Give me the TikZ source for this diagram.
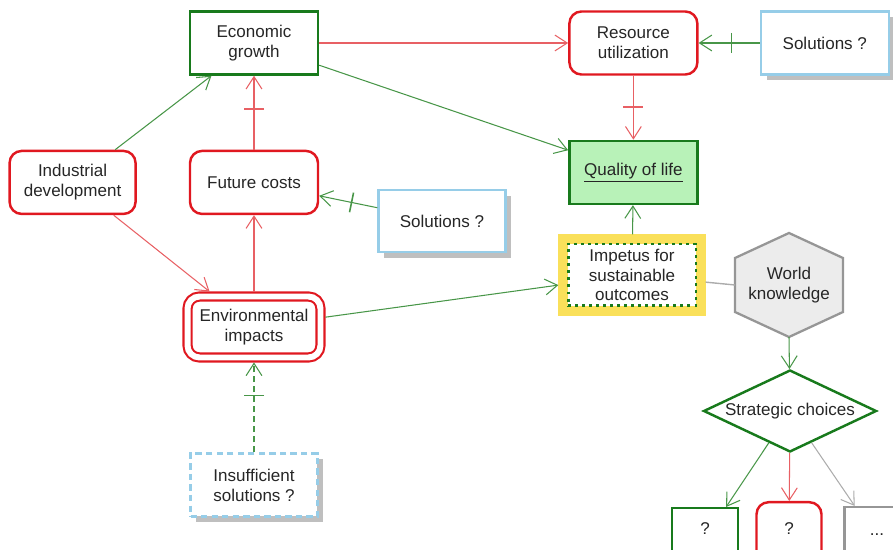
\documentclass[tikz,border=0pt]{standalone}
\usepackage{fontspec}
\setmainfont{Liberation Sans}
\usetikzlibrary{positioning, arrows.meta, shapes.geometric, shadows, calc, decorations.markings}
\definecolor{boxred}{RGB}{224,24,32}
\definecolor{linkred}{RGB}{232,96,100}
\definecolor{boxgreen}{RGB}{24,122,28}
\definecolor{linkgreen}{RGB}{72,150,72}
\definecolor{qolfill}{RGB}{184,242,184}
\definecolor{solblue}{RGB}{150,205,232}
\definecolor{hexgray}{RGB}{150,150,150}
\definecolor{hexfill}{RGB}{236,236,236}
\definecolor{impyellow}{RGB}{250,224,90}
\definecolor{linkgray}{RGB}{172,172,172}
\tikzset{
    box/.style={rectangle, minimum width=2.56cm, minimum height=1.26cm, inner sep=0pt, line width=1.4pt},
    greenbox/.style={box, draw=boxgreen},
    redbox/.style={box, draw=boxred, rounded corners=0.24cm},
    solbox/.style={box, draw=solblue, fill=white, drop shadow={shadow xshift=3.4pt, shadow yshift=-3.4pt, fill=black!25, opacity=1}},
    impetusbox/.style={box, draw=boxgreen, line width=1.7pt, dash pattern=on 1.7pt off 2.3pt, fill=white,
      preaction={draw=impyellow, solid, line width=11pt}, outer sep=5.5pt, minimum height=1.24cm},
    hexagon/.style={draw=hexgray, fill=hexfill, line width=1.3pt},
    link/.style={line width=0.6pt, -{Straight Barb[length=7pt,width=9pt]}},
    redlink/.style={link, color=linkred},
    greenlink/.style={link, color=linkgreen},
    blocked/.style={postaction={decorate, decoration={markings,
      mark=at position -0.66cm with {\draw[-, solid, line width=0.9pt, #1] (0,-0.2cm) -- (0,0.2cm);}}}},
}

\begin{document}
\begin{tikzpicture}[x=0.02cm, y=-0.02cm,
    every node/.append style={font=\fontsize{9.7}{11.3}\selectfont, align=center, text=black!85}]
    \useasboundingbox (0,0) rectangle (893,550);
    \clip (0,0) rectangle (893,550);

    \node[greenbox] (econ) at (254,43) {Economic\\growth};
    \node[redbox, right=4.98cm of econ] (resource) {Resource\\utilization};
    \node[solbox, right=1.22cm of resource] (solTop) {Solutions ?};
    \node[greenbox, fill=qolfill, below=1.28cm of resource] (qol) {\underline{Quality of life}};
    \node[redbox, below=1.48cm of econ] (future) {Future costs};
    \node[redbox, left=1.04cm of future, minimum width=2.52cm] (indust) {Industrial\\development};
    \node[solbox, minimum width=2.54cm, minimum height=1.24cm] (solMid) at (442,221) {Solutions ?};
    \node[redbox, line width=1.2pt, double=white, double distance=3.4pt, minimum width=2.66cm, minimum height=1.22cm,
      outer sep=2.8pt] (env) at (254,327) {Environmental\\impacts};
    \node[solbox, dash pattern=on 3.6pt off 2.4pt, minimum width=2.54cm] (insuff) at (254,485) {Insufficient\\solutions ?};
    \node[impetusbox] (impetus) at (632,275) {Impetus for\\sustainable\\outcomes};

    \coordinate (wkc) at (789,285);
    \draw[hexagon] (wkc) ++(0,-52) -- ++(54,25) -- ++(0,54) -- ++(-54,25) -- ++(-54,-25) -- ++(0,-54) -- cycle;
    \node[inner sep=0pt] (wk) at (wkc) {World\\knowledge};
    \coordinate (wkW) at ($(wkc)+(-54,0)$);
    \coordinate (wkS) at ($(wkc)+(0,52)$);

    \node[diamond, draw=boxgreen, line width=1.4pt, aspect=2.1, inner sep=0pt,
      minimum width=3.46cm, minimum height=1.64cm] (strategic) at (790,411) {Strategic choices};
    \node[box, draw=boxgreen, anchor=north, minimum width=1.32cm, minimum height=0pt,
      text height=0.52cm, text depth=0.7cm] (optA) at (705,507) {?};
    \node[redbox, anchor=north, minimum width=1.3cm, minimum height=0pt,
      text height=0.64cm, text depth=0.7cm] (optB) at (789,501) {?};
    \node[box, draw=hexgray, anchor=north, minimum width=1.3cm, minimum height=0pt,
      text height=0.56cm, text depth=0.7cm] (optC) at (877,506) {...};

    \draw[greenlink] (indust) -- (econ);
    \draw[redlink] (indust) -- (env);
    \draw[redlink] (econ) -- (resource);
    \draw[greenlink] (econ) -- (qol);
    \draw[redlink, blocked=linkred] (future) -- (econ);
    \draw[redlink] (env) -- (future);
    \draw[greenlink, blocked=linkgreen] (solMid) -- (future);
    \draw[greenlink, blocked=linkgreen] (solTop) -- (resource);
    \draw[redlink, blocked=linkred] (resource) -- (qol);
    \draw[greenlink] (env) -- (impetus);
    \draw[greenlink] (impetus) -- (qol);
    \draw[linkgray, line width=0.8pt] (impetus) -- (wkW);
    \draw[greenlink] (wkS) -- (strategic);
    \draw[greenlink, dash pattern=on 3.4pt off 2.3pt, blocked=linkgreen] (insuff) -- (env);
    \draw[greenlink] (strategic) -- (optA);
    \draw[redlink] (strategic) -- (optB);
    \draw[link, color=linkgray] (strategic) -- (optC);
\end{tikzpicture}
\end{document}
